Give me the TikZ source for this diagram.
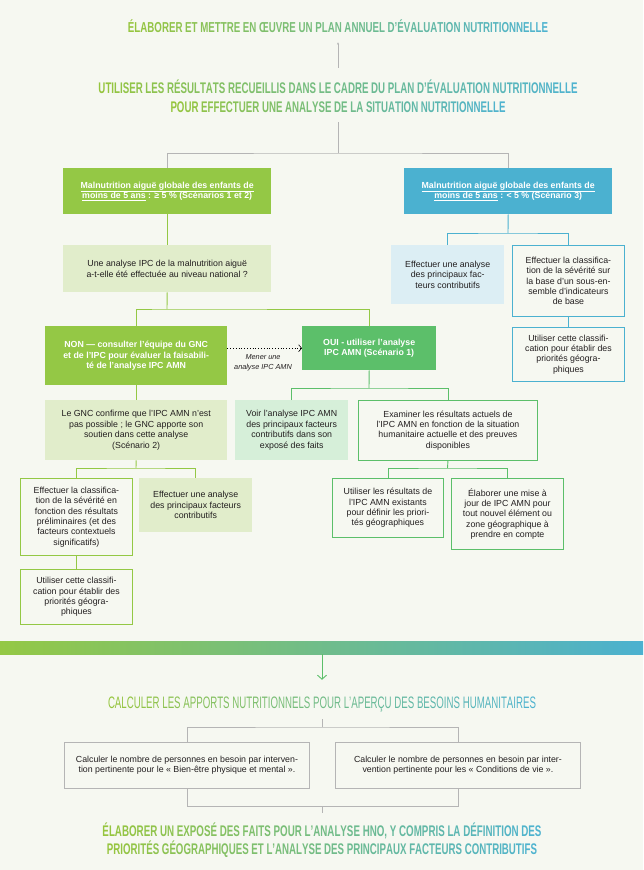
\documentclass[tikz,border=0pt]{standalone}
\usepackage{fontspec}
\setmainfont{Liberation Sans}
\usepackage{graphicx}
\usetikzlibrary{arrows.meta}
\definecolor{cbg}{HTML}{F6F8F1}
\definecolor{cgreen}{HTML}{94C845}
\definecolor{coui}{HTML}{5CBF6A}
\definecolor{cblue}{HTML}{4BB1D0}
\definecolor{clight}{HTML}{E1EDCB}
\definecolor{cmint}{HTML}{D6EFD9}
\definecolor{clblue}{HTML}{DCEEF4}
\definecolor{cgray}{HTML}{B5B5B5}
\definecolor{ctext}{HTML}{231F20}
\definecolor{ggreen}{HTML}{96C53E}
\definecolor{gblue}{HTML}{4EB3CF}

\ExplSyntaxOn
\tl_new:N \l_grad_tl
\tl_new:N \l_grad_col_tl
\int_new:N \l_grad_n_int
\int_new:N \l_grad_i_int
\NewDocumentCommand \gradtext { m }
 {
  \tl_set:Nn \l_grad_tl { #1 }
  \tl_replace_all:Nnn \l_grad_tl { ~ } { { ~ } }
  \int_set:Nn \l_grad_n_int { \tl_count:N \l_grad_tl }
  \int_zero:N \l_grad_i_int
  \tl_map_inline:Nn \l_grad_tl
   {
    \tl_if_blank:nTF { ##1 }
     { \nobreakspace }
     {
      \tl_set:Nx \l_grad_col_tl
       { gblue!\int_eval:n { 100 * \l_grad_i_int / ( \l_grad_n_int - 1 ) }!ggreen }
      \textcolor{\l_grad_col_tl}{##1}
     }
    \int_incr:N \l_grad_i_int
   }
 }
\ExplSyntaxOff

\tikzset{
  basebox/.style={inner sep=0pt, align=center, anchor=north west,
    font=\fontsize{8.8}{10.4}\selectfont, text=ctext},
  hdrbox/.style={basebox, text=white, font=\fontsize{8.8}{10.4}\selectfont\bfseries},
  greenhdr/.style={hdrbox, fill=cgreen},
  bluehdr/.style={hdrbox, fill=cblue},
  ouihdr/.style={hdrbox, fill=coui},
  lightbox/.style={basebox, fill=clight},
  mintbox/.style={basebox, fill=cmint},
  lbluebox/.style={basebox, fill=clblue},
  greenframe/.style={basebox, draw=cgreen, line width=0.9pt},
  ouiframe/.style={basebox, draw=coui, line width=0.9pt},
  blueframe/.style={basebox, draw=cblue, line width=0.9pt},
  grayframe/.style={basebox, draw=cgray, line width=0.9pt},
  titlenode/.style={inner sep=0pt, anchor=base, text depth=0pt},
  grayline/.style={draw=cgray, line width=0.8pt},
  greenline/.style={draw=cgreen, line width=0.9pt},
  ouiline/.style={draw=coui, line width=0.9pt},
  blueline/.style={draw=cblue, line width=0.9pt},
  lbl/.style={inner sep=0pt, align=center, text=ctext,
    font=\fontsize{7.3}{10}\selectfont\itshape},
}

\begin{document}
\begin{tikzpicture}[x=1pt,y=-1pt]
\useasboundingbox (0,0) rectangle (643,870);
\fill[cbg] (0,0) rectangle (643,870);

% ---------- titles ----------
\node[titlenode, text height=10.3pt, font=\fontsize{14.4}{14.4}\selectfont\bfseries] (t1) at (338,32)
  {\resizebox{420pt}{\height}{\gradtext{ÉLABORER ET METTRE EN ŒUVRE UN PLAN ANNUEL D'ÉVALUATION NUTRITIONNELLE}}};
\node[titlenode, text height=11pt, font=\fontsize{15.4}{15.4}\selectfont\bfseries] (t2a) at (338,93)
  {\resizebox{479pt}{\height}{\gradtext{UTILISER LES RÉSULTATS RECUEILLIS DANS LE CADRE DU PLAN D'ÉVALUATION NUTRITIONNELLE}}};
\node[titlenode, text height=11pt, font=\fontsize{15.4}{15.4}\selectfont\bfseries] (t2b) at (338,112)
  {\resizebox{335pt}{\height}{\gradtext{POUR EFFECTUER UNE ANALYSE DE LA SITUATION NUTRITIONNELLE}}};
\node[titlenode, text height=12pt, font=\fontsize{16.6}{16.6}\selectfont] (t3) at (322,708)
  {\resizebox{428pt}{\height}{\gradtext{CALCULER LES APPORTS NUTRITIONNELS POUR L'APERÇU DES BESOINS HUMANITAIRES}}};
\node[titlenode, text height=11pt, font=\fontsize{15.4}{15.4}\selectfont\bfseries] (t4a) at (322,836)
  {\resizebox{439pt}{\height}{\gradtext{ÉLABORER UN EXPOSÉ DES FAITS POUR L'ANALYSE HNO, Y COMPRIS LA DÉFINITION DES}}};
\node[titlenode, text height=11pt, font=\fontsize{15.4}{15.4}\selectfont\bfseries] (t4b) at (322,854)
  {\resizebox{430pt}{\height}{\gradtext{PRIORITÉS GÉOGRAPHIQUES ET L'ANALYSE DES PRINCIPAUX FACTEURS CONTRIBUTIFS}}};

% ---------- headers ----------
\node[greenhdr, minimum width=208pt, minimum height=46pt] (hG) at (63,168)
  {\underline{Malnutrition aiguë globale des enfants de}\\\underline{moins de 5 ans} : ≥ 5 \% (Scénarios 1 et 2)};
\node[bluehdr, minimum width=208pt, minimum height=46pt] (hB) at (404,168)
  {\underline{Malnutrition aiguë globale des enfants de}\\\underline{moins de 5 ans} : < 5 \% (Scénario 3)};

% ---------- left / middle column ----------
\node[lightbox, minimum width=208pt, minimum height=47pt] (q) at (63,245)
  {Une analyse IPC de la malnutrition aiguë\\a-t-elle été effectuée au niveau national ?};
\node[greenhdr, minimum width=182pt, minimum height=59pt] (non) at (45,326)
  {NON — consulter l'équipe du GNC\\et de l'IPC pour évaluer la faisabili-\\té de l'analyse IPC AMN};
\node[ouihdr, minimum width=134pt, minimum height=44pt] (oui) at (302,326)
  {OUI - utiliser l'analyse\\IPC AMN (Scénario 1)};
\node[lbl] (mlbl) at (263,363) {Mener une\\analyse IPC AMN};

\node[lightbox, minimum width=182pt, minimum height=60pt] (gnc) at (45,400)
  {Le GNC confirme que l'IPC AMN n'est\\pas possible ; le GNC apporte son\\soutien dans cette analyse\\(Scénario 2)};
\node[mintbox, minimum width=113pt, minimum height=60pt] (voir) at (235,400)
  {Voir l'analyse IPC AMN\\des principaux facteurs\\contributifs dans son\\exposé des faits};
\node[ouiframe, minimum width=179pt, minimum height=60pt] (exam) at (358,400)
  {Examiner les résultats actuels de\\l'IPC AMN en fonction de la situation\\humanitaire actuelle et des preuves\\disponibles};

\node[ouiframe, minimum width=111pt, minimum height=59pt] (util) at (332,478)
  {Utiliser les résultats de\\l'IPC AMN existants\\pour définir les priori-\\tés géographiques};
\node[ouiframe, minimum width=112pt, minimum height=71pt] (elab) at (451,478)
  {Élaborer une mise à\\jour de IPC AMN pour\\tout nouvel élément ou\\zone géographique à\\prendre en compte};

\node[greenframe, minimum width=112pt, minimum height=77pt] (cls) at (20,478)
  {Effectuer la classifica-\\tion de la sévérité en\\fonction des résultats\\préliminaires (et des\\facteurs contextuels\\significatifs)};
\node[lightbox, minimum width=113pt, minimum height=54pt] (ana) at (139,478)
  {Effectuer une analyse\\des principaux facteurs\\contributifs};
\node[greenframe, minimum width=112pt, minimum height=55pt] (use) at (20,569)
  {Utiliser cette classifi-\\cation pour établir des\\priorités géogra-\\phiques};

% ---------- blue column ----------
\node[lbluebox, minimum width=113pt, minimum height=59pt] (banal) at (391,245)
  {Effectuer une analyse\\des principaux fac-\\teurs contributifs};
\node[blueframe, minimum width=112pt, minimum height=71pt] (bcls) at (512,245)
  {Effectuer la classifica-\\tion de la sévérité sur\\la base d'un sous-en-\\semble d'indicateurs\\de base};
\node[blueframe, minimum width=112pt, minimum height=54pt] (buse) at (512,327)
  {Utiliser cette classifi-\\cation pour établir des\\priorités géogra-\\phiques};

% ---------- gradient bar ----------
\node[inner sep=0pt, minimum width=643pt, minimum height=13pt, left color=cgreen, right color=cblue, anchor=north west] (bar) at (0,641) {};

% ---------- bottom boxes ----------
\node[grayframe, minimum width=245pt, minimum height=46pt] (c1) at (64,742)
  {Calculer le nombre de personnes en besoin par interven-\\tion pertinente pour le « Bien-être physique et mental ».};
\node[grayframe, minimum width=245pt, minimum height=46pt] (c2) at (335,742)
  {Calculer le nombre de personnes en besoin par inter-\\vention pertinente pour les « Conditions de vie ».};

% ---------- junctions ----------
\coordinate (j0) at (338,153);
\coordinate (j1) at (167,309);
\coordinate (j2) at (369,388);
\coordinate (j3) at (447.5,468);
\coordinate (j4) at (136,468);
\coordinate (j6) at (508,233);
\coordinate (j7) at (322,727);
\coordinate (j5) at (322,806);

% ---------- connectors ----------
\draw[grayline, shorten <=14pt, shorten >=10pt, -{Latex[length=2.2pt,width=2.2pt]}] (t2a.north) -- (t1.south);
\draw[grayline, shorten <=10pt] (t2b.south) -- (j0);
\draw[grayline] (hG.north) |- (j0) -| (hB.north);

\draw[greenline] (hG.south) -- (q.north);
\draw[greenline] (q.south) -- (j1);
\draw[greenline] (non.north) |- (j1) -| (oui.north);
\draw[line width=0.8pt, dotted, -{Straight Barb[length=3pt,width=7pt,line width=0.6pt]}] (oui.west -| non.east) -- (oui.west);

\draw[greenline] (non.south) -- (gnc.north);
\draw[ouiline] (oui.south) -- (j2);
\draw[ouiline] (voir.north) |- (j2) -| (exam.north);
\draw[ouiline] (exam.south) -- (j3);
\draw[ouiline] (util.north) |- (j3) -| (elab.north);

\draw[greenline] (gnc.south) -- (j4);
\draw[greenline] (cls.north) |- (j4) -| (ana.north);
\draw[greenline] (cls.south) -- (use.north);

\draw[blueline] (hB.south) -- (j6);
\draw[blueline] (banal.north) |- (j6) -| (bcls.north);
\draw[blueline] (bcls.south) -- (buse.north);

\draw[ouiline, shorten >=16pt, -{Straight Barb[length=4pt,width=9pt,line width=0.9pt]}] (bar.south -| t3.north) -- (t3.north);
\draw[grayline, shorten <=11pt] (t3.south) -- (j7);
\draw[grayline] (c1.north) |- (j7) -| (c2.north);
\draw[grayline] (c1.south) |- (j5) -| (c2.south);
\draw[grayline, shorten >=12pt] (j5) -- (t4a.north);
\end{tikzpicture}
\end{document}
